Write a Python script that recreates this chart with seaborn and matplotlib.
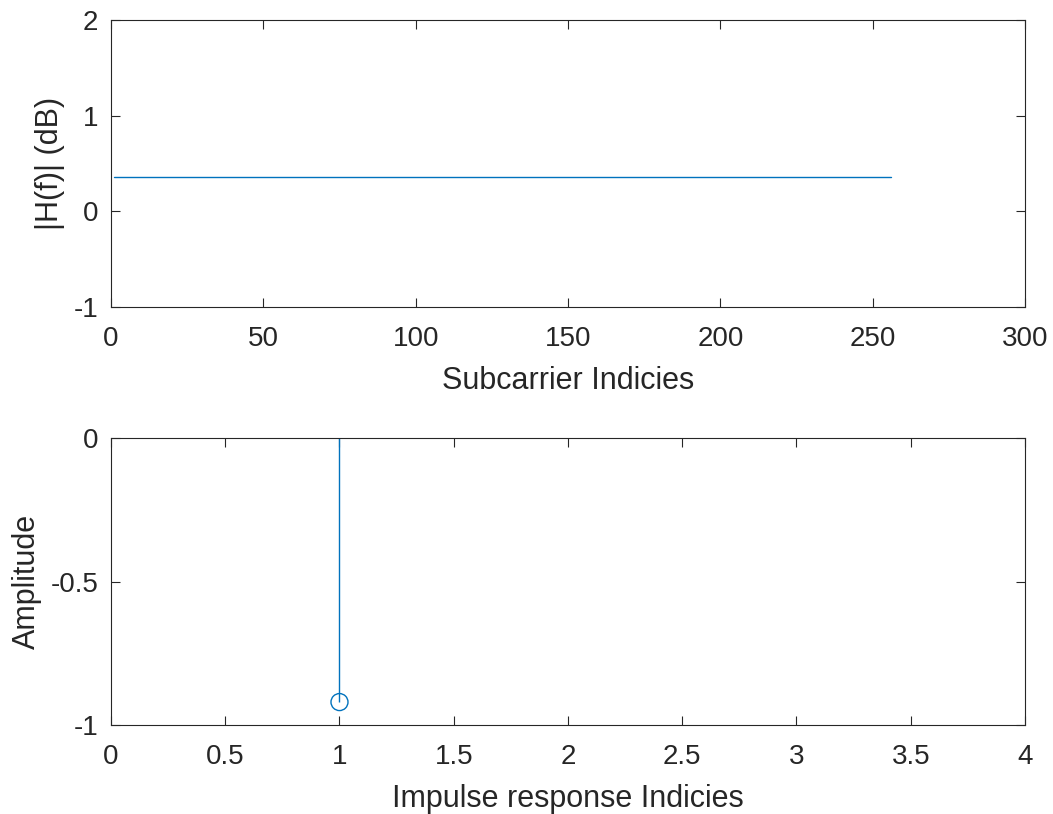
import matplotlib
matplotlib.use("Agg")
import matplotlib.pyplot as plt
import seaborn as sns
import numpy as np
import pandas as pd

# Data
subcarrier_idx = list(range(1, 257))
h_db_level = 0.36
h_db = [h_db_level] * len(subcarrier_idx)
impulse_idx = [1]
impulse_amp = [-0.92]

top_xticks = [0, 50, 100, 150, 200, 250, 300]
top_yticks = [-1, 0, 1, 2]
bot_xticks = [0, 0.5, 1, 1.5, 2, 2.5, 3, 3.5, 4]
bot_yticks = [-1, -0.5, 0]

sns.set_theme(style="white")
plt.rcParams['font.family'] = ['Liberation Sans', 'DejaVu Sans']
color = "#0072BD"
txt = "#262626"

fig = plt.figure(figsize=(10.53, 8.14), dpi=100)
ax1 = fig.add_axes([0.1054, 0.6229, 0.868, 0.3526])
ax2 = fig.add_axes([0.1054, 0.1093, 0.868, 0.3526])

df1 = pd.DataFrame({"x": subcarrier_idx, "y": h_db})
sns.lineplot(data=df1, x="x", y="y", ax=ax1, color=color, linewidth=1.0)
ax1.set_xlim(0, 300)
ax1.set_ylim(-1, 2)
ax1.set_xticks(top_xticks)
ax1.set_xticklabels([str(t) for t in top_xticks])
ax1.set_yticks(top_yticks)
ax1.set_yticklabels([str(t) for t in top_yticks])
ax1.set_xlabel("Subcarrier Indicies", fontsize=22)
ax1.set_ylabel("|H(f)| (dB)", fontsize=22)

df2 = pd.DataFrame({"x": impulse_idx, "y": impulse_amp})
ax2.vlines(df2["x"], 0, df2["y"], color=color, linewidth=1.0)
sns.scatterplot(data=df2, x="x", y="y", ax=ax2, marker="o", s=150,
                facecolors="none", edgecolor=color, linewidth=1.0, zorder=3)
ax2.set_xlim(0, 4)
ax2.set_ylim(-1, 0)
ax2.set_xticks(bot_xticks)
ax2.set_xticklabels([f"{t:g}" for t in bot_xticks])
ax2.set_yticks(bot_yticks)
ax2.set_yticklabels([f"{t:g}" for t in bot_yticks])
ax2.set_xlabel("Impulse response Indicies", fontsize=22)
ax2.set_ylabel("Amplitude", fontsize=22)

for ax in (ax1, ax2):
    ax.tick_params(direction="in", length=6.5, width=0.8, top=True, right=True,
                   bottom=True, left=True, labelsize=20, colors=txt,
                   labelcolor=txt)
    ax.tick_params(axis="x", pad=14)
    ax.tick_params(axis="y", pad=9)
    for s in ax.spines.values():
        s.set_visible(True)
        s.set_color(txt)
        s.set_linewidth(0.8)
    ax.xaxis.label.set_color(txt)
    ax.yaxis.label.set_color(txt)
    ax.xaxis.labelpad = 10
    ax.yaxis.labelpad = 6

fig.savefig("out.png", dpi=100, facecolor="white")
